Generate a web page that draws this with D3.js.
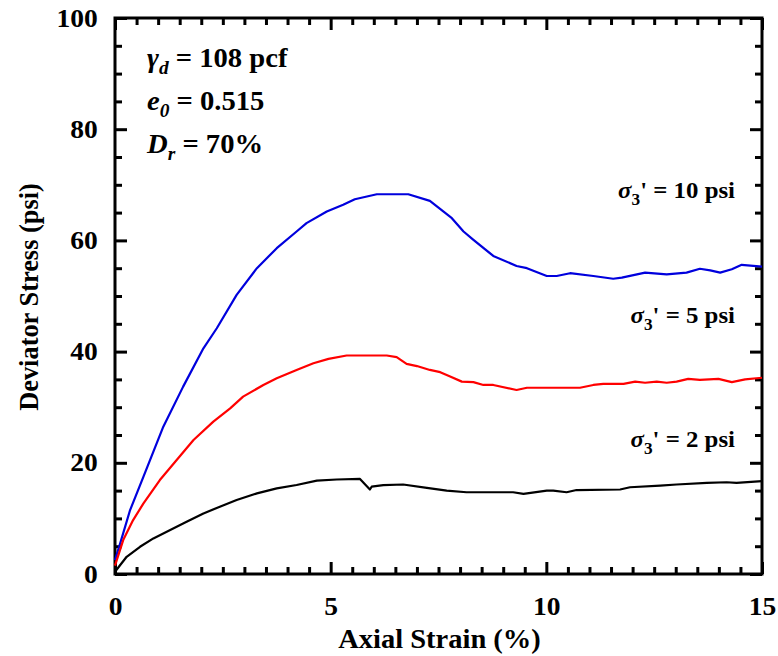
<!DOCTYPE html>
<html>
<head>
<meta charset="utf-8">
<script src="https://cdn.jsdelivr.net/npm/d3@7"></script>
<style>
  html, body { margin: 0; padding: 0; background: #fff; }
  svg text { font-family: "Liberation Serif", "Times New Roman", serif; font-weight: bold; fill: #000; }
</style>
</head>
<body>
<svg id="chart" width="778" height="656"></svg>
<script>
// ---- Data ----
const xTickLabels = [0, 5, 10, 15];
const yTickLabels = [0, 20, 40, 60, 80, 100];

const strain10 = [0, 0.12, 0.35, 0.66, 1.12, 1.58, 2.05, 2.36, 2.82, 3.29, 3.75, 4.21, 4.44, 4.91, 5.29, 5.56, 6.07, 6.80, 7.30, 7.81, 8.08, 8.31, 8.77, 9.31, 9.55, 10.01, 10.24, 10.55, 11.09, 11.55, 11.75, 12.29, 12.79, 13.25, 13.56, 13.80, 14.03, 14.30, 14.53, 15.0];
const stress10 = [2.5, 5.5, 11.5, 17.5, 26.5, 33.7, 40.6, 44.2, 50.2, 55.0, 58.6, 61.6, 63.1, 65.2, 66.4, 67.4, 68.3, 68.3, 67.1, 64.0, 61.6, 60.1, 57.2, 55.4, 55.0, 53.6, 53.6, 54.1, 53.6, 53.1, 53.3, 54.2, 53.9, 54.2, 54.9, 54.6, 54.2, 54.8, 55.6, 55.3];

const strain5 = [0, 0.19, 0.42, 0.66, 1.04, 1.43, 1.82, 2.28, 2.67, 2.97, 3.44, 3.75, 4.21, 4.60, 4.95, 5.37, 6.30, 6.53, 6.76, 7.00, 7.30, 7.54, 7.77, 8.04, 8.31, 8.54, 8.77, 9.31, 9.55, 10.78, 11.09, 11.32, 11.79, 12.06, 12.29, 12.56, 12.79, 13.02, 13.29, 13.56, 13.99, 14.30, 14.61, 15.0];
const stress5 = [1.5, 6.1, 9.7, 12.7, 16.9, 20.5, 24.1, 27.4, 29.8, 31.9, 34.0, 35.2, 36.7, 37.9, 38.7, 39.3, 39.3, 39.0, 37.8, 37.4, 36.7, 36.3, 35.5, 34.6, 34.5, 34.0, 34.0, 33.1, 33.5, 33.5, 34.0, 34.2, 34.2, 34.6, 34.4, 34.6, 34.4, 34.6, 35.1, 34.9, 35.1, 34.5, 35.0, 35.3];

const strain2 = [0, 0.27, 0.58, 0.89, 1.28, 1.66, 2.05, 2.43, 2.82, 3.29, 3.75, 4.21, 4.68, 5.14, 5.68, 5.91, 5.95, 6.22, 6.68, 7.23, 7.69, 8.15, 9.23, 9.47, 10.01, 10.16, 10.47, 10.70, 11.71, 11.94, 12.64, 13.02, 13.72, 14.18, 14.41, 15.0];
const stress2 = [0.4, 3.1, 4.9, 6.4, 7.9, 9.4, 10.9, 12.1, 13.3, 14.5, 15.4, 16.0, 16.8, 17.0, 17.1, 15.2, 15.7, 16.0, 16.1, 15.5, 15.0, 14.7, 14.7, 14.4, 15.0, 15.0, 14.7, 15.1, 15.2, 15.6, 15.9, 16.1, 16.4, 16.5, 16.4, 16.7];

const seriesNames = ["10", "5", "2"];
const seriesColors = ["#0000dd", "#ff0000", "#000000"];

// ---- Layout ----
const svg = d3.select("#chart");
const L = 115, R = 762, T = 18, B = 574;
const SX = 1.08; // horizontal stretch of the reference lettering
const x = d3.scaleLinear().domain([0, 15]).range([L, R]);
const y = d3.scaleLinear().domain([0, 100]).range([B, T]);

const xMinor = d3.range(0, 15.01, 0.5).filter(v => Math.abs(v % 5) > 1e-9);
const yMinor = d3.range(0, 100.01, 5).filter(v => v % 20 !== 0);

function styleAxis(g) {
  g.selectAll(".domain").remove();
  g.selectAll(".tick line").attr("stroke", "#000").attr("stroke-width", 3);
  g.selectAll(".tick text")
    .style("font-size", "25.5px").style("font-family", "'Liberation Serif', serif").style("font-weight", "bold")
    .attr("transform", `scale(${SX},1)`);
}

// bottom
svg.append("g").attr("transform", `translate(0,${B})`)
  .call(d3.axisBottom(x).tickValues(xTickLabels).tickSize(-12).tickPadding(23).tickFormat(d3.format("d")))
  .call(styleAxis);
svg.append("g").attr("transform", `translate(0,${B})`)
  .call(d3.axisBottom(x).tickValues(xMinor).tickSize(-7).tickFormat(""))
  .call(styleAxis);
// top
svg.append("g").attr("transform", `translate(0,${T})`)
  .call(d3.axisTop(x).tickValues(xTickLabels).tickSize(-12).tickFormat(""))
  .call(styleAxis);
svg.append("g").attr("transform", `translate(0,${T})`)
  .call(d3.axisTop(x).tickValues(xMinor).tickSize(-7).tickFormat(""))
  .call(styleAxis);
// left
svg.append("g").attr("transform", `translate(${L},0)`)
  .call(d3.axisLeft(y).tickValues(yTickLabels).tickSize(-12).tickPadding(16).tickFormat(d3.format("d")))
  .call(styleAxis);
svg.append("g").attr("transform", `translate(${L},0)`)
  .call(d3.axisLeft(y).tickValues(yMinor).tickSize(-7).tickFormat(""))
  .call(styleAxis);
// right
svg.append("g").attr("transform", `translate(${R},0)`)
  .call(d3.axisRight(y).tickValues(yTickLabels).tickSize(-12).tickFormat(""))
  .call(styleAxis);
svg.append("g").attr("transform", `translate(${R},0)`)
  .call(d3.axisRight(y).tickValues(yMinor).tickSize(-7).tickFormat(""))
  .call(styleAxis);

// frame
svg.append("rect").attr("x", L).attr("y", T).attr("width", R - L).attr("height", B - T)
  .attr("fill", "none").attr("stroke", "#000").attr("stroke-width", 3);

// curves
const line = d3.line().x(d => x(d[0])).y(d => y(d[1]));
const allSeries = [
  d3.zip(strain10, stress10),
  d3.zip(strain5, stress5),
  d3.zip(strain2, stress2)
];
allSeries.forEach((s, i) => {
  svg.append("path").datum(s).attr("d", line)
    .attr("fill", "none").attr("stroke", seriesColors[i]).attr("stroke-width", 2.2)
    .attr("stroke-linejoin", "round");
});

// axis titles
svg.append("text").attr("transform", `translate(${(L + R) / 2 + 1},648) scale(${SX},1)`).attr("text-anchor", "middle")
  .style("font-size", "26.4px").text("Axial Strain (%)");
svg.append("text").attr("transform", `translate(38,${(T + B) / 2 + 1}) rotate(-90)`).attr("text-anchor", "middle")
  .style("font-size", "26.4px").text("Deviator Stress (psi)");

// sample info
function info(yPos, main, sub, rest) {
  const t = svg.append("text").attr("transform", `translate(147,${yPos}) scale(${SX},1)`).style("font-size", "26.5px");
  t.append("tspan").style("font-style", "italic").text(main);
  t.append("tspan").style("font-style", "italic").style("font-size", "18px").attr("dy", 7).text(sub);
  t.append("tspan").attr("dy", -7).text(rest);
}
info(67, "γ", "d", " = 108 pcf");
info(110, "e", "0", " = 0.515");
info(153, "D", "r", " = 70%");

// series labels
const labelY = [198, 323, 447];
seriesNames.forEach((n, i) => {
  const t = svg.append("text").attr("transform", `translate(735,${labelY[i]}) scale(${SX},1)`)
    .attr("text-anchor", "end").style("font-size", "23px");
  t.append("tspan").style("font-style", "italic").text("σ");
  t.append("tspan").style("font-size", "16px").attr("dy", 7).text("3");
  t.append("tspan").attr("dy", -7).text("' = " + n + " psi");
});
</script>
</body>
</html>
